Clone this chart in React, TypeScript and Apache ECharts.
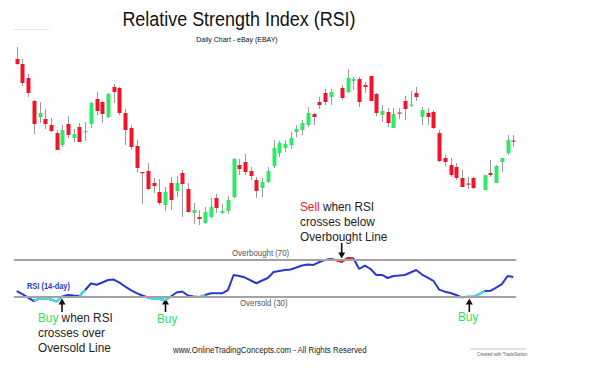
import React, { useEffect, useRef } from "react";
import * as echarts from "echarts";

// Daily candles (eBay), arbitrary price units; null = no bar
const days = Array.from({ length: 88 }, (_, i) => `D${i + 1}`);
const opens = [191,186,172,149,133,131,125,117,105,126,112,123,118,126,151,148,133,163,162,137,122,104,78,79,67,58,45,67,59,77,61,37,33,27,33,52,37,39,53,85,88,79,70,62,68,84,97,102,105,118,120,125,136,148,157,153,null,162,158,169,171,165,174,156,135,138,122,137.5,149,144.5,157,133,137,138,117,92,85,83,72,66.5,72,null,60,77,67,88,97,109.5];
const closes = [186,167,157,126,137,126,119,100,120,115,116,108,119,147,139,136,156,158,137,120,103,82,77,61,64,47,58,50,67,66,38,40,31,38,43,42,39,50,91,81,78,74,59,68,79,102,107,106,112,121,127,137,133,145,148,158,null,152,172,171,148,163,149,137,139,127,136,136.5,141,145.5,153,140,133,122,89,88,75,72,63,65.5,62,null,75,75,84,92,110,108.5];
const lows = [185,164,153,116,127,121,118,100,103,112,108,108,109,122,135,127,132,147,135,105,100,78,46,60,57,45,39,40,53,33,37,26,25,26,32,37,36,36,52,75,75,70,52,53,67,82,93,98,101,113,115,123,125,141,145,145,null,150,157,160,143,157,149,134,128,123,122,131,130,143,149,125,125,121,88,84,73,70,63,61,61,null,60,73,67,78,95,103];
const highs = [203,191,176,150,148,141,132,120,125,134,121,127,128,148,158,149,157,166,163,141,125,110,78,87,72,71,63,73,74,80,67,47,40,43,52,56,46,54,92,91,96,83,73,72,83,110,109,110,118,125,130,143,137,153,161,161,null,165,181,173,173,168,174,157,145,142,142,142,154,159,163,143,142,140,120,95,92,87,80,73,73,null,75,90,85,92,115,115];
const rsi14 = [36.2,32.9,29.1,25.3,28.0,28.3,26.9,24.8,30.2,31.9,31.3,30.8,37.3,44.4,43.1,45.5,48.2,48.7,45.3,41.1,37.3,34.0,31.3,29.1,27.5,27.5,26.4,30.2,34.6,35.7,31.3,30.2,29.7,31.9,33.7,33.7,33.7,37.3,53.7,52.6,50.9,47.7,44.7,47.7,50.4,56.9,58.0,59.1,59.6,61.8,64.0,65.1,64.6,67.8,70.0,71.1,69.7,68.2,72.2,71.6,60.2,64.0,60.2,53.7,53.7,50.4,52.6,53.1,53.7,56.4,59.1,54.2,50.9,47.4,37.8,35.5,34.0,31.9,29.3,29.9,30.0,32.9,36.2,36.5,40.0,43.8,52.6,51.5];
const levelLines = [70, 30];
const buyRanges = [[3, 8], [11, 12], [23, 27], [32, 33], [78, 82]];
const sellRanges = [[55, 59]];

const FONT = "Liberation Sans, Arial, sans-serif";
const UP = "#2fe866";
const DOWN = "#f0142a";
const WICK = "#9a9a9a";
const BLUE = "#2a36d2";
const CYAN = "#3fe0e6";
const RED = "#ee2222";
const GREEN_TXT = "#2fe060";
const TXT = "#222";

function pick(values: number[], ranges: number[][]) {
  return values.map((v, i) => (ranges.some(([a, b]) => i >= a && i <= b) ? v : "-"));
}

function arrowUp(x: number, tip: number, bottom: number) {
  return [
    { type: "line", shape: { x1: x, y1: tip + 5, x2: x, y2: bottom }, style: { stroke: "#111", lineWidth: 1.6 } },
    { type: "polygon", shape: { points: [[x - 3.5, tip + 6], [x + 3.5, tip + 6], [x, tip]] }, style: { fill: "#111" } },
  ];
}
function arrowDown(x: number, top: number, tip: number) {
  return [
    { type: "line", shape: { x1: x, y1: top, x2: x, y2: tip - 5 }, style: { stroke: "#111", lineWidth: 1.6 } },
    { type: "polygon", shape: { points: [[x - 3.5, tip - 6], [x + 3.5, tip - 6], [x, tip]] }, style: { fill: "#111" } },
  ];
}
function txt(text: string, x: number, y: number, size: number, fill: string, extra: any = {}) {
  return {
    type: "text",
    x,
    y,
    scaleX: 0.875,
    silent: true,
    style: {
      text,
      fill,
      fontSize: size,
      fontFamily: FONT,
      textVerticalAlign: "middle",
      ...extra,
    },
  };
}

export default function App() {
  const ref = useRef<HTMLDivElement>(null);
  useEffect(() => {
    const chart = echarts.init(ref.current!, null, { renderer: "svg" });
    const candleData: number[][] = [];
    opens.forEach((o, i) => {
      if (o == null) return;
      candleData.push([i, o, closes[i] as number, lows[i] as number, highs[i] as number]);
    });
    const richBuy = (rest: string) => ({
      text: `{g|Buy}${rest}`,
      rich: { g: { fill: GREEN_TXT, fontSize: 13.5, fontFamily: FONT } },
    });
    const richSell = {
      text: "{r|Sell} when RSI",
      rich: { r: { fill: RED, fontSize: 13.5, fontFamily: FONT } },
    };

    chart.setOption({
      animation: false,
      backgroundColor: "#ffffff",
      grid: [
        { left: 13.85, width: 502.3, top: 40, height: 190 },
        { left: 13.85, width: 502.3, top: 232.5, height: 91.75 },
      ],
      xAxis: [
        { type: "category", data: days, gridIndex: 0, show: false, boundaryGap: true },
        { type: "category", data: days, gridIndex: 1, show: false, boundaryGap: true },
      ],
      yAxis: [
        { type: "value", gridIndex: 0, min: 20, max: 210, show: false },
        { type: "value", gridIndex: 1, min: 0, max: 100, show: false },
      ],
      series: [
        {
          type: "custom",
          name: "eBay",
          xAxisIndex: 0,
          yAxisIndex: 0,
          clip: false,
          silent: true,
          encode: { x: 0, y: [1, 2, 3, 4] },
          data: candleData,
          renderItem: (_p: any, api: any) => {
            const idx = api.value(0);
            const o = api.value(1);
            const c = api.value(2);
            const l = api.value(3);
            const h = api.value(4);
            const top = api.coord([idx, Math.max(o, c)]);
            const bot = api.coord([idx, Math.min(o, c)]);
            const hi = api.coord([idx, h]);
            const lo = api.coord([idx, l]);
            const cx = Math.round(top[0]);
            return {
              type: "group",
              children: [
                { type: "line", shape: { x1: cx + 0.5, y1: hi[1], x2: cx + 0.5, y2: lo[1] }, style: { stroke: WICK, lineWidth: 1 } },
                {
                  type: "rect",
                  shape: { x: cx - 1.5, y: top[1], width: 4, height: Math.max(1.2, bot[1] - top[1]) },
                  style: { fill: c > o ? UP : DOWN },
                },
              ],
            };
          },
        },
        {
          type: "line",
          name: "levels",
          xAxisIndex: 1,
          yAxisIndex: 1,
          data: rsi14,
          showSymbol: false,
          silent: true,
          z: 1,
          lineStyle: { color: "transparent", width: 0 },
          markLine: {
            silent: true,
            symbol: ["none", "none"],
            label: { show: false },
            lineStyle: { color: "#a3a3a3", width: 2, type: "solid" },
            data: levelLines.map((v) => ({ yAxis: v })),
          },
        },
        {
          type: "line",
          name: "RSI (14-day)",
          xAxisIndex: 1,
          yAxisIndex: 1,
          data: rsi14,
          showSymbol: false,
          silent: true,
          z: 3,
          lineStyle: { color: BLUE, width: 2 },
          itemStyle: { color: BLUE },
        },
        {
          type: "line",
          name: "Buy zone",
          xAxisIndex: 1,
          yAxisIndex: 1,
          data: pick(rsi14, buyRanges),
          connectNulls: false,
          showSymbol: false,
          silent: true,
          z: 4,
          lineStyle: { color: CYAN, width: 2 },
          itemStyle: { color: CYAN },
        },
        {
          type: "line",
          name: "Sell zone",
          xAxisIndex: 1,
          yAxisIndex: 1,
          data: pick(rsi14, sellRanges),
          connectNulls: false,
          showSymbol: false,
          silent: true,
          z: 4,
          lineStyle: { color: RED, width: 2 },
          itemStyle: { color: RED },
        },
      ],
      graphic: [
        txt("Relative Strength Index (RSI)", 239, 19, 20.5, "#111", { textAlign: "center" }),
        txt("Daily Chart - eBay (EBAY)", 237, 39, 8, "#111", { textAlign: "center" }),
        txt("Overbought (70)", 232, 253, 9, "#555"),
        txt("Oversold (30)", 240, 302.5, 9, "#555"),
        txt("RSI (14-day)", 27, 286, 8.5, "#2a3bc0", { fontWeight: "bold" }),
        { ...txt("", 38, 318, 13.5, TXT), style: { ...txt("", 0, 0, 13.5, TXT).style, ...richBuy(" when RSI") } },
        txt("crosses over", 38, 333, 13.5, TXT),
        txt("Oversold Line", 38, 348, 13.5, TXT),
        txt("Buy", 157, 319, 13.5, GREEN_TXT),
        txt("Buy", 458, 317, 13.5, GREEN_TXT),
        { ...txt("", 300, 207, 13.5, TXT), style: { ...txt("", 0, 0, 13.5, TXT).style, ...richSell } },
        txt("crosses below", 300, 222, 13.5, TXT),
        txt("Overbought Line", 300, 237, 13.5, TXT),
        txt("www.OnlineTradingConcepts.com - All Rights Reserved", 173, 350, 9, "#222"),
        txt("Created with TradeStation", 477, 354, 5, "#666"),
        { type: "line", silent: true, shape: { x1: 470, y1: 349, x2: 526, y2: 349 }, style: { stroke: "#c4c4c4", lineWidth: 1 } },
        { type: "line", silent: true, shape: { x1: 13, y1: 29.5, x2: 50, y2: 29.5 }, style: { stroke: "#e4eee4", lineWidth: 1 } },
        ...arrowUp(62, 298.5, 312),
        ...arrowUp(165.5, 298.5, 312),
        ...arrowUp(469.3, 298.5, 312),
        ...arrowDown(341.7, 243, 258.5),
      ],
    });
    return () => chart.dispose();
  }, []);
  return (
    <div
      ref={ref}
      style={{ position: "absolute", left: 0, top: 0, width: 592, height: 373, background: "#fff" }}
    />
  );
}
